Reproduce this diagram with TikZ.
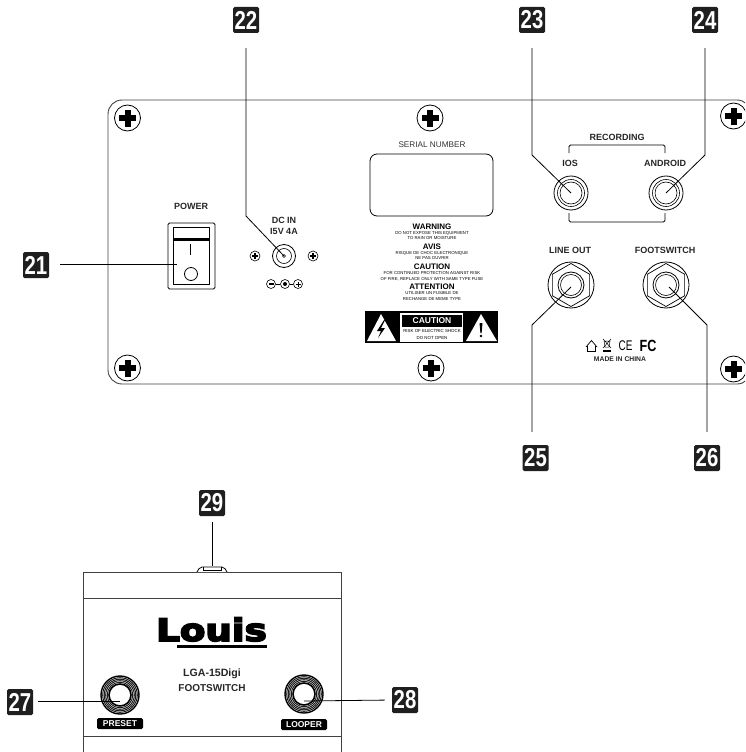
\documentclass[tikz,border=0pt]{standalone}
\usepackage{fontspec}
\usepackage{graphicx}
\setmainfont{Liberation Sans}
\usetikzlibrary{shapes.geometric}
\newfontfamily\logofont{DejaVu Sans Bold}[FakeBold=5]
\newcommand{\numtag}[1]{\scalebox{1.1}[1.4]{#1}}
\newcommand{\fsize}[1]{\fontsize{#1}{#1}\selectfont}
\tikzset{
  panelline/.style={line width=0.9pt, black!75},
  leader/.style={line width=0.8pt, black},
  badge/.style={fill=black!88, text=white, rounded corners=1.5pt, minimum size=26pt, inner sep=0pt,
    font=\fsize{18.5}\bfseries},
  panellabel/.style={font=\fsize{9}\bfseries, black!85, inner sep=0pt},
  warnhead/.style={font=\fsize{8}\bfseries, inner sep=0pt},
  warntext/.style={font=\fsize{4.3}, inner sep=0pt},
  footlabel/.style={fill=black, text=white, rounded corners=1.5pt, minimum width=46pt, minimum height=11pt,
    inner sep=0pt, font=\fsize{8.5}\bfseries},
  smalljack/.style={circle, draw, line width=0.8pt, minimum size=34pt, inner sep=0pt},
  nutjack/.style={circle, draw, line width=0.8pt, minimum size=46pt, inner sep=0pt},
  footknob/.style={circle, draw, line width=1.4pt, minimum size=38pt, inner sep=0pt},
  screw/.style={circle, draw, fill=white, line width=0.8pt, minimum size=26pt, inner sep=0pt},
  tinyscrew/.style={circle, draw, line width=0.6pt, minimum size=10pt, inner sep=0pt},
}
\begin{document}
\begin{tikzpicture}[x=1pt, y=-1pt]
\useasboundingbox (0,0) rectangle (745,752);
\begin{scope}
\clip (0,0) rectangle (745,752);
\draw[panelline, rounded corners=14pt] (108,384) -- (108,100) -- (751,100) -- (751,384) -- cycle;
\foreach \sx/\sy in {127.5/118, 430/118, 127.5/368, 431/368, 733.5/116, 733.5/369} {
  \node[screw] at (\sx,\sy) {};
  \fill (\sx-8.5,\sy-3) rectangle (\sx+8.5,\sy+3);
  \fill (\sx-3,\sy-8.5) rectangle (\sx+3,\sy+8.5);
}
\end{scope}

\node[panellabel] (power) at (191,206) {POWER};
\draw[line width=0.9pt, rounded corners=1.5pt] (168,223) rectangle (215,289);
\draw[line width=0.8pt] (173,227) rectangle (209,284);
\fill (173,237.5) rectangle (209,240.5);
\draw[line width=0.7pt] (190,244) -- (190,255);
\node[circle, draw, line width=0.8pt, minimum size=13pt, inner sep=0pt] (sw) at (191,274) {};
\coordinate (swin) at (177,264);

\node[panellabel] (dc1) at (284,220) {DC IN};
\node[panellabel] (dc2) at (284,231) {I5V 4A};
\node[smalljack, minimum size=23pt] (j22) at (284,256) {};
\draw[line width=0.6pt] (j22) circle (7.5);
\draw[line width=0.6pt] (j22) circle (1.5);
\foreach \sx in {255,313} {
  \node[tinyscrew] at (\sx,256) {};
  \fill (\sx-3,255) rectangle (\sx+3,257);
  \fill (\sx-1,253) rectangle (\sx+1,259);
}
\node[tinyscrew, minimum size=9pt] (minus) at (271,284) {};
\fill (268.5,283.4) rectangle (273.5,284.6);
\node[tinyscrew, minimum size=9pt] (centre) at (285,284) {};
\fill (centre) circle (2);
\node[tinyscrew, minimum size=9pt] (plus) at (298,284) {};
\draw[line width=0.5pt] (295.5,284) -- (300.5,284) (298,281.5) -- (298,286.5);
\draw[line width=0.6pt] (minus) -- (centre) (centre) -- (plus);

\node[font=\fsize{8.2}, black!80, inner sep=0pt] (serial) at (432,145) {SERIAL NUMBER};
\draw[line width=0.8pt, rounded corners=7pt] (370,154) rectangle (493,216);
\node[warnhead] (warn1) at (432,226.5) {WARNING};
\node[warntext] at (432,233) {DO NOT EXPOSE THIS EQUIPMENT};
\node[warntext] at (432,238.5) {TO RAIN OR MOISTURE};
\node[warnhead] (warn2) at (432,246.5) {AVIS};
\node[warntext] at (432,253) {RISQUE DE CHOC ELECTRONIQUE};
\node[warntext] at (432,258.5) {NE PAS OUVRIR};
\node[warnhead] (warn3) at (432,266.5) {CAUTION};
\node[warntext] at (432,273) {FOR CONTINUED PROTECTION AGAINST RISK};
\node[warntext] at (432,279) {OF FIRE, REPLACE ONLY WITH SAME TYPE FUSE};
\node[warnhead] (warn4) at (432,287) {ATTENTION};
\node[warntext] at (432,293) {UTILISER UN FUSIBLE DE};
\node[warntext] at (432,299) {RECHANGE DE MEME TYPE};

\fill (365,311) rectangle (498,343);
\fill[white] (381,314) -- (396,341) -- (367,341) -- cycle;
\fill (384,320) -- (377,331) -- (381,331) -- (378,338) -- (385,328) -- (381,328) -- (385,320) -- cycle;
\fill[white] (481,314) -- (497,341) -- (466,341) -- cycle;
\fill (479.5,323) -- (482.5,323) -- (481.6,333) -- (480.4,333) -- cycle;
\fill (481,336) circle (1.4);
\fill[white] (400,313) rectangle (463,342);
\node[fill=black, text=white, minimum width=60pt, minimum height=12pt, inner sep=0pt, font=\fsize{8.5}\bfseries] (cbar) at (432,321) {CAUTION};
\node[font=\fsize{4.4}, inner sep=0pt] at (432,331) {RISK OF ELECTRIC SHOCK};
\node[font=\fsize{4.4}, inner sep=0pt] at (432,338) {DO NOT OPEN};

\node[panellabel] (rec) at (617,137) {RECORDING};
\node[panellabel] (ios) at (570,163) {IOS};
\node[panellabel] (android) at (665,163) {ANDROID};
\draw[line width=0.8pt, rounded corners=1.5pt] (569,153) -- (569,145) -- (665,145) -- (665,153);
\draw[line width=0.8pt, rounded corners=1.5pt] (569,213) -- (569,222) -- (665,222) -- (665,213);
\foreach \jn/\jx in {j23/571, j24/666} {
  \node[smalljack] (\jn) at (\jx,193) {};
  \draw[line width=0.6pt] (\jn) circle (13.5);
  \draw[line width=0.6pt] (\jn) circle (11);
}

\node[panellabel] (lineout) at (570,250) {LINE OUT};
\node[panellabel] (foot) at (665,250) {FOOTSWITCH};
\foreach \jn/\jx in {j25/571, j26/666} {
  \node[nutjack] (\jn) at (\jx,285) {};
  \node[regular polygon, regular polygon sides=6, shape border rotate=30, draw, line width=0.7pt, minimum size=43pt, inner sep=0pt] at (\jx,285) {};
  \draw[line width=0.8pt] (\jn) circle (13);
  \draw[line width=0.6pt] (\jn) circle (10.5);
}

\draw[line width=0.7pt] (586,347) -- (591.5,340.5) -- (597,347) (587.5,346) -- (587.5,351.5) -- (595.5,351.5) -- (595.5,346);
\draw[line width=0.5pt] (603,339) -- (611,348) (611,339) -- (603,348) (604,341) -- (610,341) -- (609,347) -- (605,347) -- cycle;
\fill (603,349.5) rectangle (611,351.5);
\node[font=\fsize{10}, inner sep=0pt] (ce) at (625.5,346) {\scalebox{1}[1.4]{CE}};
\node[font=\fsize{12}\bfseries, inner sep=0pt] (fc) at (648,346) {\scalebox{1.05}[1.35]{FC}};
\node[font=\fsize{6.8}\bfseries, black!85, inner sep=0pt] (china) at (620,359) {MADE IN CHINA};

\draw[panelline] (83,752) -- (83,572) -- (341,572) -- (341,752);
\draw[panelline] (83,598) -- (341,598);
\draw[panelline] (83,736) -- (341,736);
\draw[line width=0.8pt, fill=white, rounded corners=2pt] (197,572) -- (200,567) -- (224,567) -- (227,572);
\draw[line width=0.5pt] (203,567) -- (203,570) -- (221,570) -- (221,567);
\coordinate (j29) at (212,566);

\node[font=\logofont\fsize{31}, inner sep=0pt, anchor=base] (logo) at (211.5,641) {\scalebox{1.2}[1]{Louis}};
\fill (177,645) rectangle (267,647.5);
\node[font=\fsize{10.6}\bfseries, black!85, inner sep=0pt] (model) at (212,674) {LGA-15Digi};
\node[panellabel, font=\fsize{10}\bfseries] (fsw) at (212,688) {FOOTSWITCH};

\foreach \jn/\jx/\jy in {j27/120/695, j28/304/694} {
  \node[footknob] (\jn) at (\jx,\jy) {};
  \foreach \jr in {17.3,15.8,14.3,12.8} {
    \draw[line width=1pt, black!90] (\jn) circle (\jr);
  }
  \draw[line width=1.6pt] (\jn) circle (11);
}
\node[footlabel] (preset) at (120,723.5) {PRESET};
\node[footlabel] (looper) at (304,724.5) {LOOPER};

\node[badge] (n21) at (36,265) {\numtag{21}};
\node[badge] (n22) at (246,20) {\numtag{22}};
\node[badge] (n23) at (532,20) {\numtag{23}};
\node[badge] (n24) at (705,20) {\numtag{24}};
\node[badge] (n25) at (535.5,458) {\numtag{25}};
\node[badge] (n26) at (707,458) {\numtag{26}};
\node[badge] (n27) at (20,702) {\numtag{27}};
\node[badge] (n28) at (405,700) {\numtag{28}};
\node[badge] (n29) at (212,503) {\numtag{29}};

\coordinate (k22) at (246,216);
\coordinate (k23) at (532,155);
\coordinate (k24) at (705,155);
\coordinate (k25) at (532,325);
\coordinate (k26) at (707,325);

\draw[leader] (n21.east |- swin) ++(11,0) -- (swin);
\draw[leader, shorten <=15pt] (n22) -- (k22) -- (j22.center);
\draw[leader, shorten <=15pt] (n23) -- (k23) -- (j23.center);
\draw[leader, shorten <=15pt] (n24) -- (k24) -- (j24.center);
\draw[leader, shorten <=13pt] (n25.north -| k25) -- (k25) -- ([yshift=-2pt]j25.center);
\draw[leader, shorten <=13pt] (n26) -- (k26) -- ([xshift=3pt,yshift=-2pt]j26.center);
\draw[leader, shorten <=5pt] (n27.east |- j27.center) ++(0,6) -- ([yshift=-6pt]j27.center);
\draw[leader, shorten >=7pt] (j28.center) ++(0,7) -- (n28.west);
\draw[leader, shorten <=6pt] (n29) -- (j29);
\end{tikzpicture}
\end{document}
